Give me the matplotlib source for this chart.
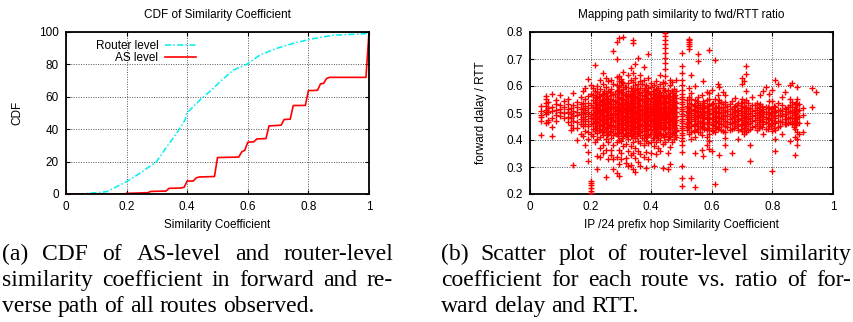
import matplotlib
matplotlib.use("Agg")
import matplotlib.pyplot as plt
import numpy as np

# ---- data: CDF of similarity coefficient ----
router_x = [0, 0.046, 0.134, 0.2, 0.244, 0.299, 0.332, 0.365, 0.393, 0.398, 0.442,
            0.486, 0.508, 0.552, 0.596, 0.64, 0.695, 0.75, 0.805, 0.882, 0.992, 1.0]
router_y = [0, 0, 1.4, 7.6, 12.8, 20, 29, 37.4, 45.7, 49.8, 58,
            65.2, 69.3, 76.5, 80, 85.8, 89.9, 93, 95.5, 98, 99, 99]

as_x = [0, 0.19, 0.2, 0.27, 0.28, 0.33, 0.34, 0.38, 0.39, 0.40, 0.42, 0.43, 0.44, 0.49,
        0.50, 0.57, 0.58, 0.59, 0.60, 0.62, 0.63, 0.66, 0.67, 0.71, 0.72, 0.74, 0.75,
        0.79, 0.80, 0.83, 0.84, 0.85, 0.86, 0.87, 0.99, 1.0]
as_y = [0, 0, 0.4, 0.8, 1.6, 1.8, 3.5, 3.7, 4.2, 8.0, 8.0, 10.0, 10.5, 10.8,
        22.5, 22.8, 26.0, 27.0, 32.0, 32.2, 34.0, 34.2, 42.0, 42.5, 46.0, 46.2, 54.6,
        54.7, 63.8, 64.0, 68.0, 68.3, 71.3, 72.0, 72.0, 100]

# ---- data: similarity vs fwd/RTT ratio (one list of ratios per similarity value) ----
sim_cols = [0.036, 0.052, 0.061, 0.074, 0.086, 0.1, 0.113, 0.125, 0.136, 0.143, 0.154,
            0.167, 0.176, 0.182, 0.192, 0.2,
            0.207, 0.214, 0.222, 0.231, 0.24, 0.25, 0.259, 0.267, 0.273, 0.286, 0.294,
            0.3, 0.308, 0.316, 0.324, 0.333, 0.34, 0.348, 0.357, 0.364, 0.375, 0.382,
            0.389, 0.4, 0.409, 0.417, 0.423, 0.429, 0.438, 0.444, 0.455, 0.462, 0.467,
            0.474, 0.481, 0.5, 0.517, 0.524, 0.533, 0.545, 0.556, 0.567, 0.571, 0.583,
            0.591, 0.6, 0.611, 0.619, 0.625, 0.636, 0.643, 0.667, 0.677, 0.688, 0.7,
            0.706, 0.714, 0.727, 0.733, 0.75, 0.76, 0.769, 0.778, 0.789, 0.8, 0.81,
            0.818, 0.833, 0.84, 0.857, 0.864, 0.875, 0.882, 0.889, 0.9, 0.913, 0.93,
            0.944]
ratio_cols = [
    [0.472, 0.486, 0.493, 0.508, 0.527, 0.419],
    [0.462, 0.497, 0.511, 0.526, 0.538, 0.553, 0.562, 0.503],
    [0.474, 0.502, 0.519, 0.541, 0.466],
    [0.448, 0.483, 0.507, 0.521, 0.414, 0.571],
    [0.472, 0.494, 0.511, 0.533, 0.547],
    [0.489, 0.503, 0.516, 0.531, 0.566],
    [0.481, 0.499, 0.523, 0.544],
    [0.468, 0.487, 0.502, 0.514, 0.533, 0.552],
    [0.457, 0.481, 0.496, 0.518, 0.437],
    [0.446, 0.472, 0.488, 0.509, 0.528, 0.309, 0.574],
    [0.443, 0.466, 0.491, 0.505, 0.522, 0.541, 0.401],
    [0.458, 0.477, 0.498, 0.513, 0.534, 0.558, 0.423],
    [0.452, 0.469, 0.487, 0.503, 0.519, 0.538, 0.583, 0.414],
    [0.433, 0.461, 0.479, 0.496, 0.512, 0.527, 0.551, 0.593, 0.382],
    [0.404, 0.428, 0.451, 0.471, 0.489, 0.505, 0.518, 0.537, 0.562, 0.626, 0.357, 0.323],
    [0.203, 0.212, 0.224, 0.233, 0.241, 0.249, 0.423, 0.458, 0.482, 0.497, 0.529, 0.571, 0.603],
    [0.413, 0.441, 0.463, 0.478, 0.492, 0.511, 0.524, 0.547, 0.568, 0.591],
    [0.394, 0.433, 0.452, 0.469, 0.484, 0.501, 0.517, 0.538, 0.559, 0.581, 0.679],
    [0.342, 0.404, 0.427, 0.446, 0.463, 0.476, 0.489, 0.506, 0.519, 0.532, 0.554, 0.577, 0.601, 0.293],
    [0.371, 0.412, 0.437, 0.454, 0.471, 0.483, 0.498, 0.512, 0.528, 0.541, 0.563, 0.588, 0.621, 0.338],
    [0.382, 0.418, 0.441, 0.459, 0.474, 0.488, 0.503, 0.516, 0.534, 0.549, 0.572, 0.608, 0.351, 0.648],
    [0.364, 0.403, 0.428, 0.449, 0.466, 0.479, 0.494, 0.509, 0.523, 0.538, 0.556, 0.574, 0.598, 0.262, 0.631],
    [0.391, 0.422, 0.443, 0.461, 0.477, 0.491, 0.507, 0.521, 0.536, 0.553, 0.581, 0.617, 0.329],
    [0.362, 0.409, 0.434, 0.452, 0.468, 0.482, 0.497, 0.513, 0.527, 0.544, 0.566, 0.589, 0.624, 0.346],
    [0.331, 0.383, 0.418, 0.439, 0.457, 0.473, 0.486, 0.501, 0.517, 0.532, 0.548, 0.571, 0.607, 0.728, 0.291],
    [0.338, 0.392, 0.421, 0.441, 0.456, 0.471, 0.484, 0.498, 0.512, 0.526, 0.542, 0.561, 0.583, 0.604, 0.633, 0.762, 0.278, 0.701],
    [0.312, 0.363, 0.401, 0.428, 0.447, 0.462, 0.478, 0.493, 0.506, 0.519, 0.535, 0.552, 0.574, 0.597, 0.618, 0.638, 0.778, 0.268],
    [0.352, 0.398, 0.426, 0.448, 0.464, 0.479, 0.492, 0.507, 0.522, 0.537, 0.554, 0.576, 0.603, 0.626, 0.331],
    [0.376, 0.413, 0.438, 0.457, 0.473, 0.488, 0.502, 0.516, 0.531, 0.547, 0.566, 0.589, 0.612, 0.782, 0.652],
    [0.333, 0.387, 0.419, 0.442, 0.459, 0.474, 0.489, 0.503, 0.518, 0.533, 0.551, 0.572, 0.598, 0.314],
    [0.358, 0.402, 0.431, 0.451, 0.467, 0.482, 0.496, 0.511, 0.526, 0.543, 0.561, 0.583, 0.611, 0.642, 0.302],
    [0.344, 0.379, 0.414, 0.437, 0.455, 0.471, 0.486, 0.499, 0.513, 0.528, 0.546, 0.567, 0.591, 0.622, 0.668, 0.309],
    [0.292, 0.352, 0.393, 0.422, 0.444, 0.461, 0.477, 0.491, 0.504, 0.518, 0.533, 0.551, 0.572, 0.594, 0.613, 0.648, 0.772, 0.758],
    [0.281, 0.334, 0.372, 0.408, 0.432, 0.452, 0.468, 0.483, 0.497, 0.512, 0.527, 0.543, 0.562, 0.586, 0.603, 0.631, 0.683],
    [0.318, 0.361, 0.398, 0.427, 0.448, 0.463, 0.479, 0.494, 0.508, 0.523, 0.538, 0.557, 0.578, 0.607, 0.702],
    [0.302, 0.347, 0.389, 0.418, 0.441, 0.458, 0.473, 0.487, 0.501, 0.516, 0.531, 0.549, 0.568, 0.591, 0.617, 0.641],
    [0.338, 0.381, 0.409, 0.433, 0.452, 0.469, 0.484, 0.498, 0.513, 0.528, 0.544, 0.563, 0.584, 0.621, 0.672],
    [0.357, 0.396, 0.423, 0.443, 0.461, 0.476, 0.491, 0.506, 0.521, 0.537, 0.556, 0.576, 0.603, 0.298],
    [0.331, 0.388, 0.417, 0.438, 0.454, 0.471, 0.486, 0.502, 0.517, 0.532, 0.551, 0.573, 0.592, 0.628, 0.718],
    [0.352, 0.394, 0.421, 0.442, 0.459, 0.474, 0.489, 0.503, 0.518, 0.534, 0.552, 0.571, 0.597, 0.612],
    [0.376, 0.408, 0.431, 0.451, 0.467, 0.482, 0.496, 0.511, 0.526, 0.541, 0.559, 0.581, 0.604, 0.302],
    [0.348, 0.391, 0.419, 0.441, 0.458, 0.473, 0.487, 0.501, 0.516, 0.531, 0.548, 0.567, 0.589, 0.618],
    [0.372, 0.407, 0.432, 0.452, 0.469, 0.484, 0.499, 0.514, 0.529, 0.546, 0.566, 0.593],
    [0.358, 0.401, 0.427, 0.447, 0.463, 0.478, 0.492, 0.507, 0.522, 0.538, 0.557, 0.579, 0.608, 0.641],
    [0.384, 0.417, 0.439, 0.457, 0.473, 0.488, 0.502, 0.517, 0.532, 0.549, 0.568, 0.591, 0.616, 0.298],
    [0.392, 0.423, 0.445, 0.463, 0.479, 0.493, 0.508, 0.523, 0.538, 0.556, 0.581, 0.612, 0.637,
     0.662, 0.684, 0.703, 0.721, 0.739, 0.756, 0.772, 0.787, 0.798],
    [0.352, 0.402, 0.429, 0.449, 0.466, 0.481, 0.495, 0.509, 0.524, 0.541, 0.562, 0.586, 0.291],
    [0.373, 0.412, 0.436, 0.455, 0.471, 0.486, 0.501, 0.516, 0.532, 0.551, 0.573, 0.602, 0.624, 0.312],
    [0.391, 0.421, 0.443, 0.461, 0.477, 0.492, 0.507, 0.522, 0.539, 0.558, 0.582, 0.613],
    [0.402, 0.428, 0.448, 0.466, 0.482, 0.497, 0.512, 0.527, 0.544, 0.563, 0.589],
    [0.412, 0.437, 0.457, 0.474, 0.489, 0.504, 0.519, 0.536, 0.556, 0.581, 0.621, 0.433],
    [0.231, 0.258, 0.302, 0.357, 0.381, 0.398, 0.409, 0.418, 0.427, 0.436, 0.444, 0.453, 0.462,
     0.471, 0.479, 0.488, 0.497, 0.506, 0.514, 0.523, 0.532, 0.541, 0.551, 0.561, 0.572, 0.584,
     0.603, 0.622, 0.648, 0.673, 0.723],
    [0.438, 0.461, 0.479, 0.494, 0.509, 0.526, 0.547, 0.452],
    [0.421, 0.443, 0.462, 0.478, 0.492, 0.506, 0.521, 0.538, 0.561, 0.592, 0.738, 0.748, 0.756, 0.763, 0.769, 0.774],
    [0.402, 0.428, 0.451, 0.469, 0.486, 0.501, 0.516, 0.532, 0.551, 0.574, 0.259, 0.641],
    [0.412, 0.438, 0.459, 0.477, 0.493, 0.509, 0.526, 0.548, 0.601, 0.352, 0.226],
    [0.431, 0.453, 0.472, 0.489, 0.504, 0.519, 0.536, 0.558, 0.692, 0.718],
    [0.418, 0.443, 0.463, 0.481, 0.497, 0.513, 0.531, 0.566, 0.362],
    [0.447, 0.468, 0.486, 0.503, 0.521, 0.543, 0.342, 0.617],
    [0.382, 0.412, 0.437, 0.458, 0.476, 0.492, 0.508, 0.526, 0.548, 0.578],
    [0.367, 0.398, 0.423, 0.446, 0.466, 0.483, 0.499, 0.514, 0.531, 0.552, 0.574, 0.733],
    [0.438, 0.461, 0.479, 0.496, 0.513, 0.532, 0.587, 0.358],
    [0.428, 0.452, 0.472, 0.489, 0.506, 0.524, 0.553, 0.698, 0.236],
    [0.441, 0.463, 0.482, 0.499, 0.517, 0.538, 0.568, 0.608],
    [0.447, 0.469, 0.487, 0.504, 0.522, 0.547, 0.596, 0.343],
    [0.433, 0.458, 0.477, 0.494, 0.511, 0.532, 0.576],
    [0.381, 0.408, 0.431, 0.452, 0.471, 0.488, 0.504, 0.521, 0.541, 0.566, 0.292],
    [0.441, 0.463, 0.481, 0.498, 0.516, 0.543, 0.352],
    [0.451, 0.472, 0.489, 0.506, 0.526, 0.557],
    [0.438, 0.459, 0.477, 0.494, 0.512, 0.536, 0.402],
    [0.432, 0.454, 0.473, 0.491, 0.508, 0.527, 0.552, 0.607, 0.631],
    [0.443, 0.464, 0.483, 0.501, 0.519, 0.541, 0.421, 0.618],
    [0.428, 0.451, 0.471, 0.489, 0.506, 0.524, 0.547, 0.582, 0.646, 0.673],
    [0.442, 0.463, 0.482, 0.499, 0.518, 0.321, 0.381],
    [0.449, 0.471, 0.489, 0.507, 0.528, 0.561],
    [0.437, 0.461, 0.481, 0.499, 0.517, 0.538],
    [0.452, 0.473, 0.492, 0.511, 0.532, 0.568],
    [0.458, 0.479, 0.497, 0.516, 0.423, 0.583],
    [0.441, 0.466, 0.486, 0.504, 0.524, 0.598],
    [0.451, 0.476, 0.496, 0.517, 0.546, 0.572],
    [0.432, 0.458, 0.481, 0.499, 0.518, 0.544, 0.587, 0.286],
    [0.402, 0.438, 0.462, 0.483, 0.502, 0.523, 0.621, 0.358],
    [0.448, 0.471, 0.492, 0.512, 0.538, 0.607],
    [0.468, 0.489, 0.508, 0.529, 0.558, 0.421],
    [0.476, 0.497, 0.518, 0.578, 0.458],
    [0.466, 0.487, 0.507, 0.528, 0.551, 0.398, 0.603],
    [0.459, 0.481, 0.501, 0.521, 0.542, 0.612],
    [0.441, 0.462, 0.482, 0.503, 0.523, 0.534, 0.343, 0.412],
    [0.428, 0.468, 0.488, 0.509, 0.529, 0.551, 0.598, 0.381, 0.402],
    [0.423, 0.462, 0.487, 0.512, 0.533],
    [0.431, 0.491, 0.518],
    [0.463],
    [0.592, 0.523],
    [0.576],
]

# more routes inside the crowded band around 0.5
band_cols = [0.218, 0.227, 0.236, 0.245, 0.255, 0.263, 0.28, 0.29, 0.304, 0.312,
             0.32, 0.329, 0.337, 0.344, 0.353, 0.36, 0.37, 0.378, 0.386, 0.395,
             0.405, 0.413, 0.42, 0.426, 0.433, 0.441, 0.45, 0.458, 0.471, 0.478,
             0.522, 0.54, 0.55, 0.562, 0.575, 0.588, 0.605, 0.615, 0.631, 0.65,
             0.66, 0.672, 0.682, 0.695, 0.71, 0.72, 0.742, 0.755, 0.765, 0.785,
             0.795, 0.806, 0.825, 0.846, 0.852, 0.87, 0.879]
band_ratio = [
    [0.446, 0.468, 0.487, 0.505, 0.521, 0.539, 0.558],
    [0.436, 0.457, 0.481, 0.497, 0.513, 0.529, 0.548, 0.571],
    [0.428, 0.451, 0.473, 0.492, 0.509, 0.526, 0.544, 0.566],
    [0.433, 0.462, 0.479, 0.494, 0.511, 0.531, 0.553, 0.582],
    [0.418, 0.444, 0.466, 0.485, 0.502, 0.519, 0.541, 0.563],
    [0.431, 0.456, 0.476, 0.493, 0.514, 0.532, 0.551, 0.576],
    [0.427, 0.449, 0.472, 0.491, 0.508, 0.524, 0.543, 0.569],
    [0.414, 0.439, 0.462, 0.481, 0.499, 0.516, 0.536, 0.559, 0.586],
    [0.409, 0.436, 0.458, 0.477, 0.494, 0.511, 0.529, 0.551, 0.579, 0.614],
    [0.421, 0.446, 0.467, 0.486, 0.503, 0.521, 0.541, 0.566, 0.596],
    [0.418, 0.443, 0.466, 0.483, 0.501, 0.518, 0.537, 0.562],
    [0.426, 0.452, 0.471, 0.489, 0.507, 0.524, 0.546, 0.571],
    [0.413, 0.439, 0.461, 0.479, 0.496, 0.514, 0.533, 0.556, 0.582],
    [0.422, 0.448, 0.469, 0.487, 0.505, 0.523, 0.543, 0.569],
    [0.416, 0.441, 0.463, 0.482, 0.499, 0.517, 0.538, 0.561, 0.588],
    [0.428, 0.453, 0.474, 0.493, 0.509, 0.527, 0.548, 0.574],
    [0.407, 0.434, 0.457, 0.476, 0.494, 0.511, 0.529, 0.552, 0.578, 0.606],
    [0.419, 0.446, 0.468, 0.487, 0.504, 0.521, 0.541, 0.566, 0.594],
    [0.411, 0.438, 0.461, 0.481, 0.498, 0.515, 0.534, 0.557, 0.583],
    [0.424, 0.451, 0.472, 0.491, 0.508, 0.526, 0.546, 0.572],
    [0.409, 0.436, 0.459, 0.478, 0.496, 0.513, 0.532, 0.554, 0.581],
    [0.421, 0.447, 0.469, 0.488, 0.506, 0.523, 0.543, 0.567],
    [0.414, 0.441, 0.463, 0.483, 0.501, 0.518, 0.537, 0.561, 0.587],
    [0.426, 0.452, 0.473, 0.492, 0.509, 0.527, 0.548, 0.573],
    [0.418, 0.444, 0.466, 0.485, 0.503, 0.521, 0.541, 0.564],
    [0.412, 0.439, 0.462, 0.481, 0.498, 0.516, 0.536, 0.559, 0.586],
    [0.423, 0.449, 0.471, 0.489, 0.507, 0.525, 0.544, 0.568],
    [0.416, 0.443, 0.465, 0.484, 0.502, 0.519, 0.539, 0.562],
    [0.427, 0.454, 0.475, 0.494, 0.511, 0.529, 0.549, 0.574],
    [0.419, 0.446, 0.468, 0.487, 0.505, 0.522, 0.542, 0.566],
    [0.447, 0.468, 0.487, 0.503, 0.519],
    [0.433, 0.456, 0.476, 0.494, 0.512, 0.531],
    [0.441, 0.464, 0.484, 0.502, 0.521, 0.543],
    [0.428, 0.451, 0.471, 0.491, 0.509, 0.528],
    [0.439, 0.461, 0.482, 0.501, 0.518, 0.537],
    [0.446, 0.467, 0.487, 0.506, 0.526],
    [0.434, 0.457, 0.478, 0.497, 0.516, 0.538],
    [0.443, 0.465, 0.486, 0.505, 0.523],
    [0.438, 0.461, 0.481, 0.501, 0.519, 0.541],
    [0.447, 0.468, 0.488, 0.507, 0.527],
    [0.436, 0.458, 0.479, 0.498, 0.516, 0.535],
    [0.444, 0.466, 0.485, 0.504, 0.523],
    [0.451, 0.472, 0.491, 0.509, 0.529],
    [0.439, 0.461, 0.481, 0.499, 0.517, 0.537],
    [0.446, 0.467, 0.487, 0.506, 0.524],
    [0.438, 0.459, 0.479, 0.497, 0.516, 0.536],
    [0.452, 0.473, 0.492, 0.511, 0.531],
    [0.443, 0.465, 0.484, 0.503, 0.522],
    [0.448, 0.469, 0.489, 0.508, 0.527],
    [0.441, 0.463, 0.483, 0.502, 0.521],
    [0.453, 0.474, 0.494, 0.513],
    [0.446, 0.468, 0.488, 0.507, 0.526],
    [0.452, 0.472, 0.492, 0.511],
    [0.458, 0.478, 0.497, 0.516],
    [0.463, 0.483, 0.502, 0.521],
    [0.449, 0.471, 0.491, 0.511],
    [0.456, 0.477, 0.497, 0.516, 0.536],
]

caption_a = ["(a) CDF of AS-level and router-level",
             "similarity coefficient in forward and re-",
             "verse path of all routes observed."]
caption_b = ["(b) Scatter plot of router-level similarity",
             "coefficient for each route vs. ratio of for-",
             "ward delay and RTT."]

W, H = 854, 322
fig = plt.figure(figsize=(W / 100, H / 100), dpi=100)
sans = "Liberation Sans"
fs = 8.5


def px_axes(l, t, r, b):
    return fig.add_axes([l / W, 1 - b / H, (r - l) / W, (b - t) / H])


def gp_style(ax):
    ax.grid(True, color="#555555", linestyle=(0, (1, 1.5)), linewidth=0.7)
    ax.set_axisbelow(True)
    for s in ax.spines.values():
        s.set_linewidth(1.3)
    ax.tick_params(direction="in", top=True, right=True, length=3, width=0.8,
                   labelsize=fs, pad=5)
    for lab in ax.get_xticklabels() + ax.get_yticklabels():
        lab.set_fontfamily(sans)


# ---- left: CDF ----
ax1 = px_axes(66, 32, 369, 194)
ax1.plot(router_x, router_y, color="#00eeee", lw=1.1,
         linestyle=(0, (4, 1.5, 1, 1.5)), label="Router level")
ax1.plot(as_x, as_y, color="#ff0000", lw=1.2, label="AS level")
ax1.set_xlim(0, 1)
ax1.set_ylim(0, 100)
ax1.set_xticks([0, 0.2, 0.4, 0.6, 0.8, 1])
ax1.set_xticklabels(["0", "0.2", "0.4", "0.6", "0.8", "1"])
ax1.set_yticks([0, 20, 40, 60, 80, 100])
gp_style(ax1)
leg = ax1.legend(loc="upper right", bbox_to_anchor=(202 / W, 1 - 34 / H),
                 bbox_transform=fig.transFigure, frameon=False, borderpad=0,
                 markerfirst=False, handlelength=2.6, handletextpad=0.6,
                 labelspacing=0.0, prop={"family": sans, "size": fs})
for t in leg.get_texts():
    t.set_ha("right")
fig.text(217 / W, 1 - 15 / H, "CDF of Similarity Coefficient", ha="center",
         va="center", family=sans, fontsize=fs)
fig.text(217 / W, 1 - 225 / H, "Similarity Coefficient", ha="center",
         va="center", family=sans, fontsize=fs)
fig.text(17 / W, 1 - 113 / H, "CDF", ha="center", va="center", rotation=90,
         family=sans, fontsize=fs)

# ---- right: scatter ----
all_x = list(sim_cols) + list(band_cols)
all_y = list(ratio_cols) + list(band_ratio)
sx = np.concatenate([np.full(len(ys), x) for x, ys in zip(all_x, all_y)])
sy = np.concatenate([np.array(ys, dtype=float) for ys in all_y])
ax2 = px_axes(530, 32, 833, 194)
ax2.scatter(sx, sy, marker="+", s=14, linewidths=1.0, color="#ff0000", zorder=3)
ax2.set_xlim(0, 1)
ax2.set_ylim(0.2, 0.8)
ax2.set_xticks([0, 0.2, 0.4, 0.6, 0.8, 1])
ax2.set_xticklabels(["0", "0.2", "0.4", "0.6", "0.8", "1"])
ax2.set_yticks([0.2, 0.3, 0.4, 0.5, 0.6, 0.7, 0.8])
gp_style(ax2)
fig.text(681 / W, 1 - 15 / H, "Mapping path similarity to fwd/RTT ratio",
         ha="center", va="center", family=sans, fontsize=fs)
fig.text(681 / W, 1 - 225 / H, "IP /24 prefix hop Similarity Coefficient",
         ha="center", va="center", family=sans, fontsize=fs)
fig.text(481 / W, 1 - 113 / H, "forward dalay / RTT", ha="center", va="center",
         rotation=90, family=sans, fontsize=fs)

# ---- captions (justified like LaTeX) ----
renderer = fig.canvas.get_renderer()
cap_fs = 17
baselines = [260, 286, 312]


def put_line(text, x0, x1, yb, justify):
    words = text.split(" ")
    arts = [fig.text(0, 1 - yb / H, w, family="Liberation Serif",
                     fontsize=cap_fs, va="baseline") for w in words]
    widths = [a.get_window_extent(renderer).width for a in arts]
    if justify and len(words) > 1:
        gap = (x1 - x0 - sum(widths)) / (len(words) - 1)
    else:
        sp = fig.text(0, 0, "a a", family="Liberation Serif", fontsize=cap_fs)
        sp2 = fig.text(0, 0, "aa", family="Liberation Serif", fontsize=cap_fs)
        gap = sp.get_window_extent(renderer).width - sp2.get_window_extent(renderer).width
        sp.remove()
        sp2.remove()
    x = x0
    for a, w in zip(arts, widths):
        a.set_x(x / W)
        x += w + gap


for i, line in enumerate(caption_a):
    put_line(line, 2, 393, baselines[i], i < 2)
for i, line in enumerate(caption_b):
    put_line(line, 441, 851, baselines[i], i < 2)

fig.savefig("out.png", dpi=100)
